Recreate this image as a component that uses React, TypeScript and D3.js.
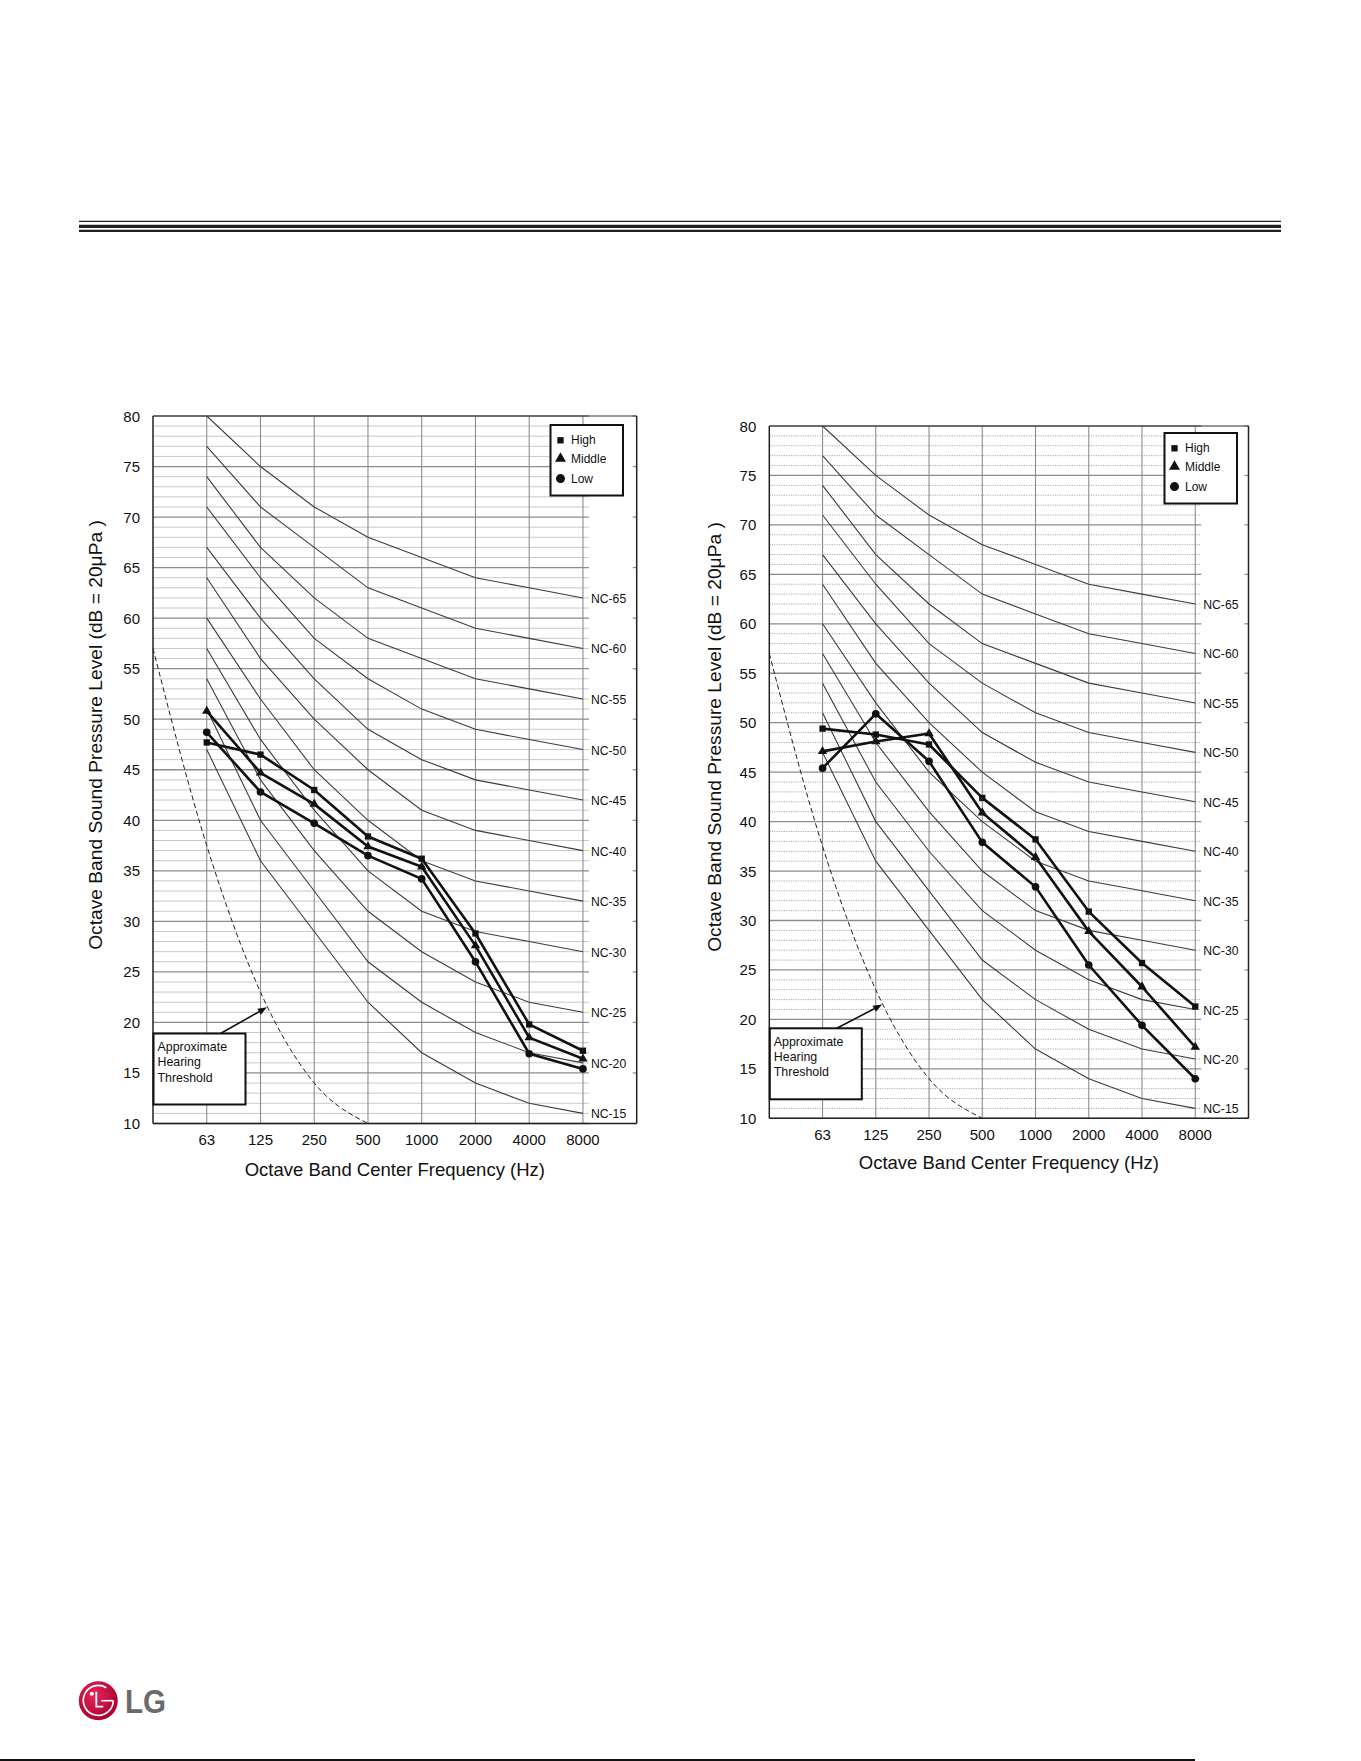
import React from 'react';
import * as d3 from 'd3';

// octave band centre frequencies (x categories)
const bands = ['63', '125', '250', '500', '1000', '2000', '4000', '8000'];
const yTicks = [10, 15, 20, 25, 30, 35, 40, 45, 50, 55, 60, 65, 70, 75, 80];

// NC reference curves, dB at each band
const ncNames = ['NC-15', 'NC-20', 'NC-25', 'NC-30', 'NC-35', 'NC-40', 'NC-45', 'NC-50', 'NC-55', 'NC-60', 'NC-65'];
const nc15 = [47, 36, 29, 22, 17, 14, 12, 11];
const nc20 = [51, 40, 33, 26, 22, 19, 17, 16];
const nc25 = [54, 44, 37, 31, 27, 24, 22, 21];
const nc30 = [57, 48, 41, 35, 31, 29, 28, 27];
const nc35 = [60, 52, 45, 40, 36, 34, 33, 32];
const nc40 = [64, 56, 50, 45, 41, 39, 38, 37];
const nc45 = [67, 60, 54, 49, 46, 44, 43, 42];
const nc50 = [71, 64, 58, 54, 51, 49, 48, 47];
const nc55 = [74, 67, 62, 58, 56, 54, 53, 52];
const nc60 = [77, 71, 67, 63, 61, 59, 58, 57];
const nc65 = [80, 75, 71, 68, 66, 64, 63, 62];
const ncCurves = [nc15, nc20, nc25, nc30, nc35, nc40, nc45, nc50, nc55, nc60, nc65];

// approximate hearing threshold (band index, dB); index -1 = left edge
const thresholdIdx = [-1, 0, 1, 2, 3];
const thresholdDb = [57, 37.5, 23, 14, 10];

// measured data
const seriesNames = ['High', 'Middle', 'Low'];
const leftHigh = [47.7, 46.5, 43.0, 38.4, 36.2, 28.8, 19.8, 17.2];
const leftMiddle = [50.8, 44.7, 41.6, 37.4, 35.4, 27.6, 18.5, 16.4];
const leftLow = [48.7, 42.8, 39.7, 36.5, 34.2, 26.0, 16.9, 15.4];

const rightHigh = [49.4, 48.8, 47.8, 42.4, 38.2, 30.9, 25.7, 21.3];
const rightMiddle = [47.1, 48.1, 48.9, 40.9, 36.4, 28.9, 23.3, 17.2];
const rightLow = [45.4, 50.9, 46.1, 37.9, 33.4, 25.5, 19.4, 14.0];

const FONT = '"Liberation Sans", Arial, Helvetica, sans-serif';

const symbolTypes = [d3.symbolSquare, d3.symbolTriangle, d3.symbolCircle];

type Box = { left: number; right: number; top: number; bottom: number; titleX: number; titleY: number; xTitleGap: number; legendX: number; legendY: number; dotted: boolean };

function NCChart({ box, series }: { box: Box; series: number[][] }) {
  const x = d3.scaleLinear().domain([-1, 8]).range([box.left, box.right]);
  const y = d3.scaleLinear().domain([10, 80]).range([box.bottom, box.top]);
  const gridEnd = x(7) + 6;
  const minor = d3.range(11, 80).filter(v => v % 5 !== 0);

  const line = d3.line<number>().x((_, i) => x(i)).y(d => y(d));
  const thresholdLine = d3.line<number>()
    .x((_, i) => x(thresholdIdx[i]))
    .y(d => y(d))
    .curve(d3.curveMonotoneX);

  const sym = (i: number, size: number) => d3.symbol().type(symbolTypes[i]).size(size)() || '';
  const markerSize = [40, 38, 46];

  const boxW = 92, boxH = 71;
  const annTop = box.bottom - 90;
  const arrowX0 = box.left + 67.5, arrowY0 = annTop;
  const arrowX1 = x(1.12), arrowY1 = y(21.5);
  const ang = Math.atan2(arrowY1 - arrowY0, arrowX1 - arrowX0);
  const ah = 9, aw = 3.5;
  const bx = arrowX1 - ah * Math.cos(ang), by = arrowY1 - ah * Math.sin(ang);
  const head = `M${arrowX1},${arrowY1}L${bx - aw * Math.sin(ang)},${by + aw * Math.cos(ang)}L${bx + aw * Math.sin(ang)},${by - aw * Math.cos(ang)}Z`;

  return (
    <g fontFamily={FONT}>
      {/* minor grid */}
      {minor.map(v => (
        <line key={'m' + v} x1={box.left} x2={gridEnd} y1={y(v)} y2={y(v)}
          stroke={box.dotted ? '#a0a0a0' : '#c2c2c2'} strokeWidth={box.dotted ? 0.9 : 0.9}
          strokeDasharray={box.dotted ? '1.2,1.2' : undefined} />
      ))}
      {/* major grid */}
      {yTicks.map(v => (
        <g key={'M' + v}>
          <line x1={box.left} x2={gridEnd} y1={y(v)} y2={y(v)} stroke="#8c8c8c" strokeWidth={1.3} />
          <line x1={box.right - 4} x2={box.right} y1={y(v)} y2={y(v)} stroke="#8c8c8c" strokeWidth={1.2} />
        </g>
      ))}
      {/* vertical grid */}
      {bands.map((b, i) => (
        <line key={'v' + b} x1={x(i)} x2={x(i)} y1={box.top} y2={box.bottom} stroke="#8c8c8c" strokeWidth={1.1} />
      ))}
      {/* frame */}
      <line x1={box.left} x2={box.right} y1={box.top} y2={box.top} stroke="#333" strokeWidth={1.2} />
      <line x1={box.right} x2={box.right} y1={box.top} y2={box.bottom} stroke="#222" strokeWidth={1.5} />
      <line x1={box.left} x2={box.right} y1={box.bottom} y2={box.bottom} stroke="#222" strokeWidth={1.5} />
      <line x1={box.left} x2={box.left} y1={box.top} y2={box.bottom} stroke="#222" strokeWidth={1.5} />

      {/* NC curves */}
      {ncCurves.map((c, k) => (
        <g key={ncNames[k]}>
          <path d={line(c) || ''} fill="none" stroke="#3c3c3c" strokeWidth={1.1} />
          <text x={x(7) + 8} y={y(c[7]) + 1} fontSize={12.2} dominantBaseline="central" fill="#111">{ncNames[k]}</text>
        </g>
      ))}

      {/* hearing threshold */}
      <path d={thresholdLine(thresholdDb) || ''} fill="none" stroke="#222" strokeWidth={1} strokeDasharray="5,3" />

      {/* annotation */}
      <rect x={box.left + 0.5} y={annTop} width={boxW} height={boxH} fill="#fff" stroke="#111" strokeWidth={2} />
      {['Approximate', 'Hearing', 'Threshold'].map((t, i) => (
        <text key={t} x={box.left + 4.5} y={annTop + 13.4 + i * 15.3} fontSize={12.4} dominantBaseline="central" fill="#111">{t}</text>
      ))}
      <line x1={arrowX0} y1={arrowY0} x2={bx} y2={by} stroke="#111" strokeWidth={1.6} />
      <path d={head} fill="#111" />

      {/* measured series */}
      {series.map((s, k) => (
        <g key={seriesNames[k]}>
          <path d={line(s) || ''} fill="none" stroke="#111" strokeWidth={2.6} strokeLinejoin="round" />
          {s.map((v, i) => (
            <path key={i} d={sym(k, markerSize[k])} transform={`translate(${x(i)},${y(v)})`} fill="#111" />
          ))}
        </g>
      ))}

      {/* legend */}
      <rect x={box.legendX} y={box.legendY} width={72.5} height={70.5} fill="#fff" stroke="#111" strokeWidth={2} />
      {seriesNames.map((n, k) => {
        const ly = box.legendY + [15.3, 33.5, 53.6][k];
        return (
          <g key={'lg' + n}>
            <path d={sym(k, [40, 52, 64][k])} transform={`translate(${box.legendX + 10},${ly})`} fill="#111" />
            <text x={box.legendX + 20.5} y={ly} fontSize={12} dominantBaseline="central" fill="#111">{n}</text>
          </g>
        );
      })}

      {/* axes labels */}
      {yTicks.map(v => (
        <text key={'yt' + v} x={box.left - 13} y={y(v)} fontSize={15} textAnchor="end" dominantBaseline="central" fill="#111">{v}</text>
      ))}
      {bands.map((b, i) => (
        <text key={'xt' + b} x={x(i)} y={box.bottom + 16} fontSize={15} textAnchor="middle" dominantBaseline="central" fill="#111">{b}</text>
      ))}
      <text x={(box.left + box.right) / 2} y={box.bottom + box.xTitleGap} fontSize={18.5} textAnchor="middle" dominantBaseline="central" fill="#111">
        Octave Band Center Frequency (Hz)
      </text>
      <text transform={`translate(${box.titleX},${box.titleY}) rotate(-90)`} fontSize={19.2} textAnchor="middle" dominantBaseline="central" fill="#111">
        Octave Band Sound Pressure Level (dB = 20μPa )
      </text>
    </g>
  );
}

const leftBox: Box = { left: 153, right: 636.7, top: 416, bottom: 1123.5, titleX: 95, titleY: 735, xTitleGap: 46, legendX: 550.5, legendY: 425, dotted: false };
const rightBox: Box = { left: 769.3, right: 1248.5, top: 426, bottom: 1118.3, titleX: 714.5, titleY: 737, xTitleGap: 44.5, legendX: 1164.5, legendY: 433, dotted: true };

function LgLogo() {
  const cx = 98.3, cy = 1700.7, r = 19.5;
  return (
    <g>
      <defs>
        <radialGradient id="lgGrad" cx="40%" cy="35%" r="70%">
          <stop offset="0%" stopColor="#e8265a" />
          <stop offset="100%" stopColor="#a3002f" />
        </radialGradient>
      </defs>
      <circle cx={cx} cy={cy} r={r} fill="url(#lgGrad)" />
      <path d={`M${cx + 15},${cy} A15,15 0 1 1 ${cx + 8},${cy - 13}`} fill="none" stroke="#fff" strokeWidth={1.6} />
      <line x1={cx + 3} y1={cy} x2={cx + 15} y2={cy} stroke="#fff" strokeWidth={1.6} />
      <circle cx={cx - 6.5} cy={cy - 7} r={2} fill="#fff" />
      <path d={`M${cx - 2},${cy - 9}L${cx - 2},${cy + 6}L${cx + 5},${cy + 6}`} fill="none" stroke="#fff" strokeWidth={1.8} />
      <text x={125} y={1712.7} fontFamily={FONT} fontWeight="bold" fontSize={34} fill="#6b6b6b" textLength={41} lengthAdjust="spacingAndGlyphs">LG</text>
    </g>
  );
}

export default function App() {
  return (
    <div style={{ position: 'absolute', left: 0, top: 0, width: 1361, height: 1761, background: '#fff' }}>
      <svg width={1361} height={1761} style={{ display: 'block' }}>
        <rect width={1361} height={1761} fill="#fff" />
        {/* header rules */}
        <line x1={79} x2={1281} y1={221.3} y2={221.3} stroke="#231f20" strokeWidth={1.3} />
        <line x1={79} x2={1281} y1={226.4} y2={226.4} stroke="#231f20" strokeWidth={3.3} />
        <line x1={79} x2={1281} y1={230.9} y2={230.9} stroke="#231f20" strokeWidth={2.3} />

        <NCChart box={leftBox} series={[leftHigh, leftMiddle, leftLow]} />
        <NCChart box={rightBox} series={[rightHigh, rightMiddle, rightLow]} />

        <LgLogo />
        <line x1={0} x2={1195} y1={1760} y2={1760} stroke="#111" strokeWidth={2} />
      </svg>
    </div>
  );
}
